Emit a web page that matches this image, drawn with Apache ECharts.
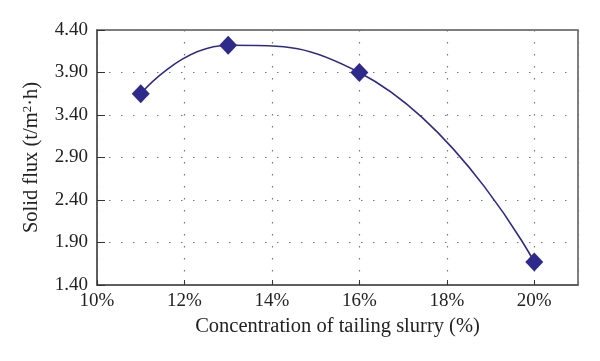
<!DOCTYPE html>
<html>
<head>
<meta charset="utf-8">
<script src="https://cdn.jsdelivr.net/npm/echarts@6/dist/echarts.min.js"></script>
<style>html,body{margin:0;padding:0;background:#fff}#c{width:600px;height:361px}</style>
</head>
<body>
<div id="c"></div>
<script>
var concentration = [11, 13, 16, 20];
var solidFlux = [3.65, 4.22, 3.90, 1.67];
var xTicks = [10, 12, 14, 16, 18, 20];
var yTicks = [1.40, 1.90, 2.40, 2.90, 3.40, 3.90, 4.40];

var pts = concentration.map(function (c, i) { return [c, solidFlux[i]]; });
var FONT = '"Liberation Serif", "DejaVu Serif", serif';
var chart = echarts.init(document.getElementById('c'), null, {renderer: 'canvas'});
chart.setOption({
  animation: false,
  grid: {left: 97, right: 22, top: 30, bottom: 76, show: true, borderColor: '#555', borderWidth: 1.5, backgroundColor: 'transparent'},
  xAxis: {
    type: 'value', min: 10, max: 21, interval: 2,
    name: 'Concentration of tailing slurry (%)', nameLocation: 'middle', nameGap: 27,
    nameTextStyle: {fontFamily: FONT, fontSize: 20.5, color: '#222'},
    axisLine: {show: true, lineStyle: {color: '#555', width: 1.5}},
    axisTick: {show: true, inside: true, length: 5, lineStyle: {color: '#333'}},
    axisLabel: {fontFamily: FONT, fontSize: 19, color: '#222', margin: 7, showMaxLabel: false,
      formatter: function (v) { return xTicks.indexOf(v) >= 0 ? v + '%' : ''; }},
    splitLine: {show: true, lineStyle: {color: '#777', type: [1.5, 10.5], width: 1.2}}
  },
  yAxis: {
    type: 'value', min: 1.4, max: 4.4, interval: 0.5,
    name: '{a|Solid flux (t/m}{s|2}{a|·h)}', nameLocation: 'middle', nameGap: 54,
    nameTextStyle: {fontFamily: FONT, fontSize: 20.5, color: '#222',
      rich: {a: {fontFamily: FONT, fontSize: 20.5, color: '#222'}, s: {fontFamily: FONT, fontSize: 13, color: '#222', verticalAlign: 'top', padding: [0, 0, 9, 0]}}},
    axisLine: {show: true, lineStyle: {color: '#555', width: 1.5}},
    axisTick: {show: true, inside: true, length: 8, lineStyle: {color: '#333'}},
    axisLabel: {fontFamily: FONT, fontSize: 19, color: '#222', margin: 9,
      formatter: function (v) {
        for (var i = 0; i < yTicks.length; i++) if (Math.abs(yTicks[i] - v) < 1e-6) return yTicks[i].toFixed(2);
        return '';
      }},
    splitLine: {show: true, lineStyle: {color: '#777', type: [1.5, 10.5], width: 1.2}}
  },
  series: [{
    type: 'line', data: pts, smooth: 0.5,
    symbol: 'diamond', symbolSize: [18, 19],
    lineStyle: {color: '#2e2a8c', width: 1.6},
    itemStyle: {color: '#2e2a8c'}
  }]
});
</script>
</body>
</html>
